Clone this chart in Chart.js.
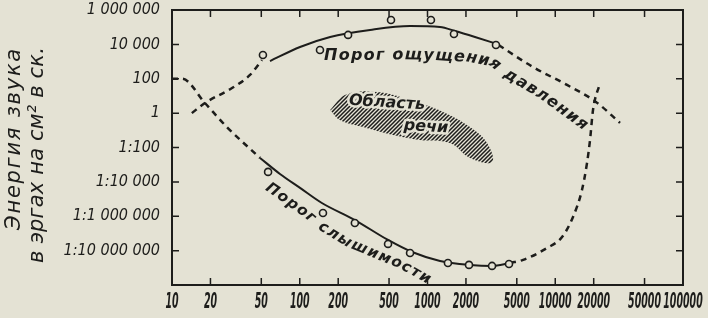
<!DOCTYPE html>
<html>
<head>
<meta charset="utf-8">
<script src="https://cdn.jsdelivr.net/npm/chart.js@4.4.1/dist/chart.umd.min.js"></script>
<style>
    html, body { margin: 0; padding: 0; background: #e4e2d4; }
    #wrap { width: 708px; height: 318px; position: relative; }
</style>
</head>
<body>
<div id="wrap"><canvas id="chart"></canvas></div>
<script>
// Axis ticks: frequency (Hz) and sound energy as log10 of ergs per cm2 per s
const xTicks = [10, 20, 50, 100, 200, 500, 1000, 2000, 5000, 10000, 20000, 50000, 100000];
const yTicks = [6, 4, 2, 0, -2, -4, -6, -8];
const yTickLabels = ['1 000 000', '10 000', '100', '1', '1:100', '1:10 000', '1:1 000 000', '1:10 000 000'];

// Threshold of feeling (pressure)
const feelLeadFreq = [14.3, 18.1, 29.5, 40.8, 50.6];
const feelLeadLog = [0, 0.59, 1.46, 2.22, 3.09];
const feelFreq = [58.5, 100.5, 173, 355, 730, 1253, 1641, 2353, 3500];
const feelLog = [3.03, 3.85, 4.43, 4.84, 5.07, 5.01, 4.78, 4.43, 4.02];
const feelDotFreq = [51.5, 144, 239, 518, 1064, 1611, 3436];
const feelDotLog = [3.38, 3.67, 4.55, 5.42, 5.42, 4.60, 3.96];
const feelTailFreq = [3600, 6700, 12360, 20840, 32150];
const feelTailLog = [3.96, 2.68, 1.64, 0.65, -0.57];

// Threshold of hearing
const hearLeadFreq = [10, 12, 18.1, 26.9, 48.9];
const hearLeadLog = [2, 2, 0.59, -0.81, -2.61];
const hearFreq = [48.9, 70, 100.5, 149, 270, 491, 757, 1253, 2153, 3200, 4426];
const hearLog = [-2.61, -3.54, -4.35, -5.23, -6.22, -7.38, -8.08, -8.60, -8.83, -8.89, -8.72];
const hearDotFreq = [56.5, 152, 270, 491, 730, 1445, 2113, 3200, 4345];
const hearDotLog = [-3.42, -5.81, -6.39, -7.61, -8.14, -8.72, -8.83, -8.89, -8.78];
const hearTailFreq = [4426, 5600, 8610, 11300, 13770, 16190, 17730, 18720, 19750, 22400];
const hearTailLog = [-8.72, -8.54, -7.85, -7.21, -6.04, -4.47, -2.90, -1.56, 0.18, 1.75];

// Speech area outline
const speechFreq = [173, 226, 403, 730, 1321, 2153, 2924, 3200, 2153, 1500, 873, 537, 313, 206, 173];
const speechLog = [0.18, 1.06, 1.23, 0.76, 0.07, -0.81, -1.74, -2.84, -2.61, -1.74, -1.56, -1.27, -0.81, -0.40, 0.18];

// Paths (first and last letter centres) for the curve captions
const feelLabelFreq = [175, 296, 610, 1253, 2153, 3200, 4190, 8318, 16180];
const feelLabelLog = [3.32, 3.32, 3.38, 3.32, 3.21, 2.97, 2.28, 0.94, -0.63];
const hearLabelFreq = [60.7, 116, 149, 239, 441, 610, 955];
const hearLabelLog = [-4.47, -5.93, -6.62, -7.55, -8.37, -8.78, -9.59];

const ink = '#1d1d1b';
const paper = '#e4e2d4';
const face = "'DejaVu Sans Condensed', 'DejaVu Sans', sans-serif";

function points(xs, ys) {
    return xs.map((x, i) => ({ x: x, y: ys[i] }));
}

// hatch pattern for speech area
function hatch() {
    const c = document.createElement('canvas');
    c.width = 4; c.height = 4;
    const g = c.getContext('2d');
    g.strokeStyle = ink;
    g.lineWidth = 1.5;
    g.beginPath();
    g.moveTo(-1, 5); g.lineTo(5, -1);
    g.moveTo(-1, 1); g.lineTo(1, -1);
    g.moveTo(3, 5); g.lineTo(5, 3);
    g.stroke();
    return g.createPattern(c, 'repeat');
}

// letters spread along a polyline, first/last letter centred on the ends
function drawAlong(ctx, text, pts, font) {
    ctx.font = font;
    const chars = [...text];
    const widths = chars.map(c => ctx.measureText(c).width);
    const seg = [];
    let total = 0;
    for (let i = 1; i < pts.length; i++) {
        const dx = pts[i].x - pts[i - 1].x, dy = pts[i].y - pts[i - 1].y;
        const len = Math.hypot(dx, dy);
        seg.push({ start: total, len: len, p: pts[i - 1], dx: dx, dy: dy });
        total += len;
    }
    const n = chars.length;
    const inner = widths.reduce((a, b) => a + b, 0) - widths[0] / 2 - widths[n - 1] / 2;
    const extra = (total - inner) / (n - 1);
    let d = -widths[0] / 2;
    ctx.textAlign = 'center';
    ctx.textBaseline = 'middle';
    chars.forEach((ch, i) => {
        const mid = d + widths[i] / 2;
        let s = seg.find(q => mid <= q.start + q.len) || seg[seg.length - 1];
        const t = (mid - s.start) / s.len;
        ctx.save();
        ctx.translate(s.p.x + s.dx * t, s.p.y + s.dy * t);
        ctx.rotate(Math.atan2(s.dy, s.dx));
        ctx.fillText(ch, 0, 0);
        ctx.restore();
        d += widths[i] + extra;
    });
}

function fitUp(ctx, text, x, yTop, length) {
    ctx.letterSpacing = '0px';
    const w = ctx.measureText(text).width;
    ctx.letterSpacing = Math.max(0, (length - w) / [...text].length) + 'px';
    ctx.save();
    ctx.translate(x, yTop);
    ctx.rotate(-Math.PI / 2);
    ctx.fillText(text, 0, 0);
    ctx.restore();
    ctx.letterSpacing = '0px';
}

const paperPlugin = {
    id: 'paper',
    beforeDraw(chart) {
        const ctx = chart.ctx;
        ctx.save();
        ctx.fillStyle = paper;
        ctx.fillRect(0, 0, chart.width, chart.height);
        ctx.restore();
    },
    afterDatasetsDraw(chart) {
        const ctx = chart.ctx;
        const xs = chart.scales.x, ys = chart.scales.y;
        const px = (f, v) => f.map((q, i) => ({ x: xs.getPixelForValue(q), y: ys.getPixelForValue(v[i]) }));
        ctx.save();
        ctx.fillStyle = ink;
        drawAlong(ctx, 'Порог ощущения давления', px(feelLabelFreq, feelLabelLog), "italic bold 16px 'DejaVu Sans'");
        drawAlong(ctx, 'Порог слышимости', px(hearLabelFreq, hearLabelLog), "italic bold 15px 'DejaVu Sans'");

        // speech area caption, hatch cleared behind the letters
        ctx.font = "italic bold 16px 'DejaVu Sans'";
        ctx.textAlign = 'center';
        ctx.textBaseline = 'middle';
        [['Область', 482, 0.59], ['речи', 973, -0.81]].forEach(([t, f, v]) => {
            ctx.save();
            ctx.translate(xs.getPixelForValue(f), ys.getPixelForValue(v));
            ctx.rotate(0.06);
            ctx.lineWidth = 5;
            ctx.strokeStyle = paper;
            ctx.lineJoin = 'round';
            ctx.strokeText(t, 0, 0);
            ctx.fillText(t, 0, 0);
            ctx.restore();
        });
        ctx.restore();
    },
    afterDraw(chart) {
        const ctx = chart.ctx;
        const a = chart.chartArea;
        const xs = chart.scales.x, ys = chart.scales.y;
        ctx.save();
        ctx.strokeStyle = ink;
        ctx.lineWidth = 2;
        ctx.strokeRect(a.left, a.top, a.right - a.left, a.bottom - a.top);

        // inward tick marks on all four sides
        ctx.lineWidth = 1.5;
        ctx.beginPath();
        const tl = 7;
        xTicks.slice(1, -1).forEach(v => {
            const x = xs.getPixelForValue(v);
            ctx.moveTo(x, a.top); ctx.lineTo(x, a.top + tl);
            ctx.moveTo(x, a.bottom); ctx.lineTo(x, a.bottom - tl);
        });
        yTicks.slice(1).forEach(v => {
            const y = ys.getPixelForValue(v);
            ctx.moveTo(a.left, y); ctx.lineTo(a.left + tl, y);
            ctx.moveTo(a.right, y); ctx.lineTo(a.right - tl, y);
        });
        ctx.stroke();

        // narrow frequency labels under the axis
        ctx.fillStyle = ink;
        ctx.font = "italic bold 21px " + face;
        ctx.textAlign = 'center';
        ctx.textBaseline = 'middle';
        xTicks.forEach(v => {
            ctx.save();
            ctx.translate(xs.getPixelForValue(v), a.bottom + 18);
            ctx.scale(0.5, 1);
            ctx.fillText(String(v), 0, 0);
            ctx.restore();
        });

        // y axis title, two lines reading upward
        ctx.font = "italic 21px 'DejaVu Sans'";
        ctx.textAlign = 'right';
        ctx.textBaseline = 'middle';
        fitUp(ctx, 'Энергия звука', 15, 47, 183);
        fitUp(ctx, 'в эргах на см² в ск.', 38, 47, 216);
        ctx.restore();
    }
};

const dashed = {
    borderColor: ink, borderWidth: 2.5, borderDash: [6, 5], pointRadius: 0, fill: false,
    cubicInterpolationMode: 'monotone'
};
const solid = { borderColor: ink, borderWidth: 2, pointRadius: 0, fill: false, cubicInterpolationMode: 'monotone' };
const dots = {
    showLine: false, pointRadius: 3.5, pointBackgroundColor: paper,
    pointBorderColor: ink, pointBorderWidth: 1.6
};

new Chart(document.getElementById('chart'), {
    type: 'line',
    data: {
        datasets: [
            { ...dots, data: points(feelDotFreq, feelDotLog) },
            { ...dots, data: points(hearDotFreq, hearDotLog) },
            { ...solid, data: points(feelFreq, feelLog) },
            { ...dashed, data: points(feelLeadFreq, feelLeadLog) },
            { ...dashed, data: points(feelTailFreq, feelTailLog) },
            { ...solid, data: points(hearFreq, hearLog) },
            { ...dashed, data: points(hearLeadFreq, hearLeadLog) },
            { ...dashed, data: points(hearTailFreq, hearTailLog) },
            { data: points(speechFreq, speechLog), fill: 'shape', backgroundColor: hatch(),
              borderWidth: 0, pointRadius: 0, tension: 0.4, order: 10 }
        ]
    },
    options: {
        responsive: true,
        maintainAspectRatio: false,
        animation: false,
        devicePixelRatio: 1,
        layout: { padding: { top: 10, right: 25, left: 0, bottom: 0 } },
        plugins: { legend: { display: false }, tooltip: { enabled: false } },
        scales: {
            x: {
                type: 'logarithmic',
                min: 10,
                max: 100000,
                afterBuildTicks: s => { s.ticks = xTicks.map(v => ({ value: v })); },
                afterFit: s => { s.height = 33; s.paddingLeft = 0; s.paddingRight = 0; },
                grid: { display: false, drawTicks: false },
                border: { display: false },
                ticks: { display: false, autoSkip: false, maxRotation: 0 }
            },
            y: {
                type: 'linear',
                min: -10,
                max: 6,
                afterBuildTicks: s => { s.ticks = yTicks.map(v => ({ value: v })); },
                afterFit: s => { s.width = 172; s.paddingTop = 0; s.paddingBottom = 0; },
                grid: { display: false, drawTicks: false },
                border: { display: false },
                ticks: {
                    padding: 12, color: ink,
                    font: { family: face, size: 16, style: 'italic' },
                    callback: (v, i) => yTickLabels[i]
                }
            }
        }
    },
    plugins: [paperPlugin]
});
</script>
</body>
</html>
